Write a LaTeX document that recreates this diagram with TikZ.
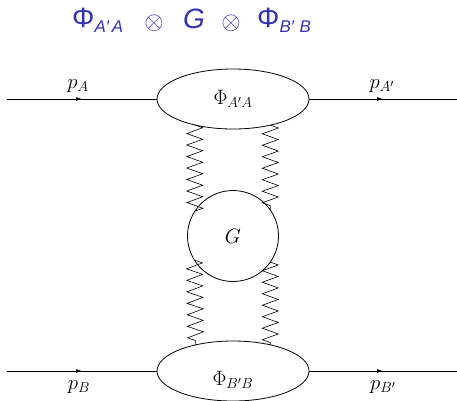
\documentclass[tikz,border=0pt]{standalone}
\usepackage{fontspec}
\newfontfamily\titlefont{Liberation Sans}
\usetikzlibrary{shapes.geometric,decorations.pathmorphing,decorations.markings,arrows.meta}
\definecolor{titleblue}{RGB}{51,51,179}
\begin{document}
\begin{tikzpicture}[x=1pt,y=-1pt,
  lbl/.style={font=\fontsize{21}{25}\selectfont, inner sep=0pt},
  blob/.style={draw, line width=0.8pt, ellipse, minimum width=152pt, minimum height=60pt, inner sep=0pt, outer sep=0pt, font=\fontsize{21}{25}\selectfont},
  gbox/.style={draw, line width=0.8pt, circle, minimum size=91pt, inner sep=0pt, outer sep=0pt, font=\fontsize{21}{25}\selectfont},
  ext/.style={line width=0.8pt, postaction={decorate}, decoration={markings, mark=at position 0.5 with {\arrow{Latex[length=6pt,width=4pt]}}}},
  zz/.style={line width=0.6pt, decorate, decoration={zigzag, segment length=11.5pt, amplitude=8pt}},
  ttl/.style={text=titleblue, font=\titlefont\fontsize{28}{32}\selectfont, inner sep=0pt, anchor=base west},
  otim/.style={text=titleblue, font=\fontsize{26}{30}\selectfont, inner sep=0pt}
]
\useasboundingbox (0,0) rectangle (457,400);

% title
\node[ttl] (t1) at (72,27) {Φ\raisebox{-5pt}{\fontsize{17}{20}\selectfont\itshape A′\,A}};
\node[otim] (t2) at (154,23) {$\otimes$};
\node[ttl] (t3) at (183,28) {\itshape G};
\node[otim] (t4) at (231,23) {$\otimes$};
\node[ttl] (t5) at (257,27) {Φ\raisebox{-5pt}{\fontsize{17}{20}\selectfont\itshape B′\,\,B}};

% blobs
\node[blob] (phiA) at (233,99) {$\Phi_{A'A}$};
\node[gbox] (G) at (233,236) {$G$};
\node[blob] (phiB) at (233,371) {};
\node[lbl] (phiBlab) at (233,380) {$\Phi_{B'B}$};

% external lines
\coordinate (inA) at (7,99);
\coordinate (outA) at (457,99);
\coordinate (inB) at (7,371);
\coordinate (outB) at (457,371);
\draw[ext] (inA) -- (phiA.west);
\draw[ext] (phiA.east) -- (outA);
\draw[ext] (inB) -- (phiB.west);
\draw[ext] (phiB.east) -- (outB);

\node[lbl] (pA) at (78,86) {$p_A$};
\node[lbl] (pAp) at (382,86) {$p_{A'}$};
\node[lbl] (pB) at (79,387) {$p_B$};
\node[lbl] (pBp) at (383,387) {$p_{B'}$};

% zigzags
\draw[zz] (phiA.214.4) -- (G.147.7);
\draw[zz] (phiA.-35.1) -- (G.35);
\draw[zz] (G.212.3) -- (phiB.145.6);
\draw[zz] (G.-35) -- (phiB.35.1);
\end{tikzpicture}
\end{document}
